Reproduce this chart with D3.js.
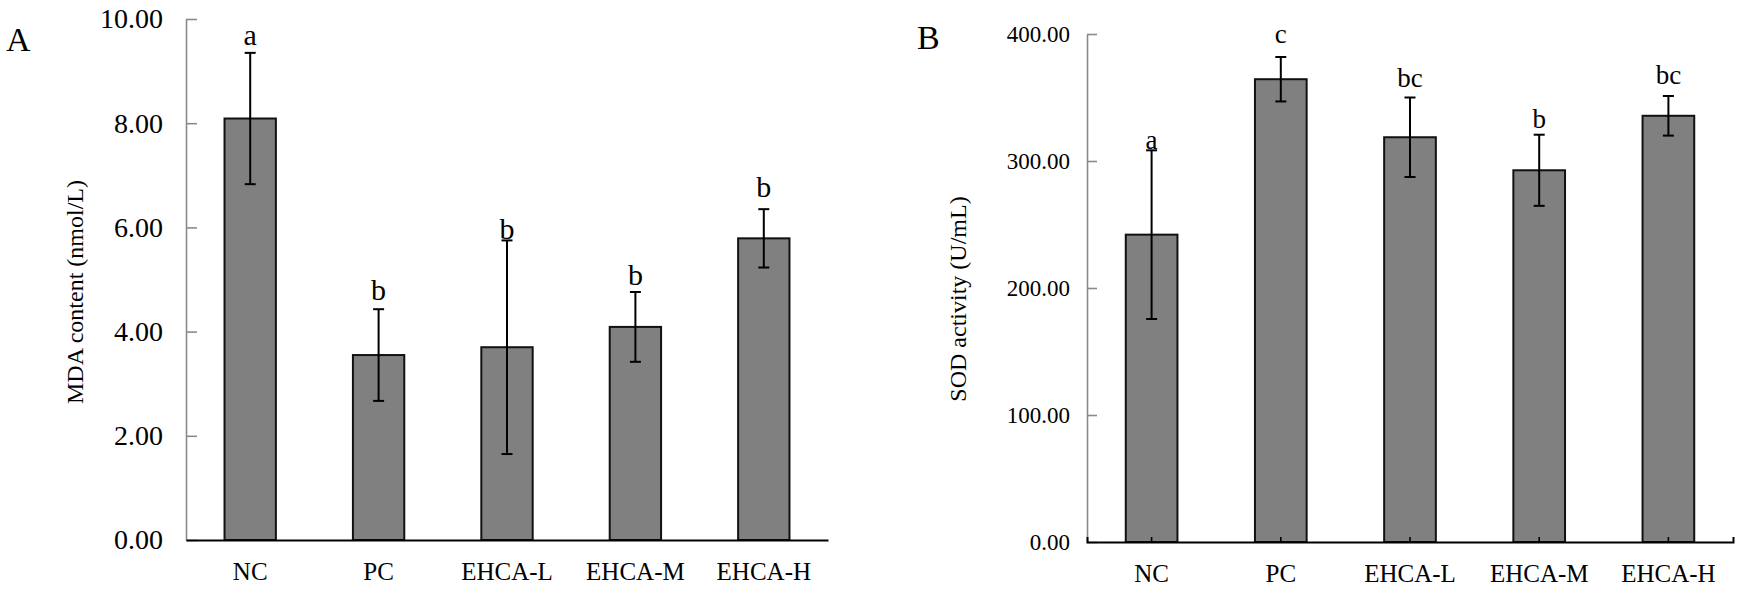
<!DOCTYPE html>
<html>
<head>
<meta charset="utf-8">
<script src="https://cdn.jsdelivr.net/npm/d3@7/dist/d3.min.js"></script>
<style>
  html, body { margin: 0; padding: 0; background: #fff; }
  svg { display: block; }
  text { font-family: "Liberation Serif", "Times New Roman", serif; fill: #000; }
</style>
</head>
<body>
<svg id="chart" width="1741" height="591"></svg>
<script>
// ---- data ----
const categories = ["NC", "PC", "EHCA-L", "EHCA-M", "EHCA-H"];

const mdaMean = [8.09, 3.55, 3.70, 4.09, 5.79];
const mdaSD = [1.26, 0.88, 2.05, 0.67, 0.56];
const mdaLetters = ["a", "b", "b", "b", "b"];
const mdaLetterAt = [9.50, 4.61, 5.78, 4.89, 6.59];
const mdaTicks = [0, 2, 4, 6, 8, 10];

const sodMean = [242.0, 364.4, 318.7, 292.7, 335.6];
const sodSD = [66.4, 17.5, 31.3, 28.0, 15.6];
const sodLetters = ["a", "c", "bc", "b", "bc"];
const sodLetterAt = [309.4, 393.0, 358.6, 326.0, 361.0];
const sodTicks = [0, 100, 200, 300, 400];

// ---- drawing ----
const svg = d3.select("#chart");
const fmt = d3.format(".2f");

function panel(opt) {
  const g = svg.append("g");
  const x = d3.scaleBand().domain(categories)
    .range([opt.x0, opt.x1]).paddingInner(0.6).paddingOuter(0.3);
  const y = d3.scaleLinear().domain([0, opt.ticks[opt.ticks.length - 1]])
    .range([opt.y0, opt.y1]);

  // bars
  g.selectAll("rect.bar").data(categories).enter().append("rect")
    .attr("class", "bar")
    .attr("x", d => x(d))
    .attr("width", x.bandwidth())
    .attr("y", (d, i) => y(opt.mean[i]))
    .attr("height", (d, i) => y(0) - y(opt.mean[i]))
    .attr("fill", "#808080")
    .attr("stroke", "#111")
    .attr("stroke-width", 2);

  // y axis
  const ya = g.append("g")
    .attr("transform", `translate(${opt.x0},0)`)
    .call(d3.axisLeft(y).tickValues(opt.ticks).tickFormat(fmt)
      .tickSizeInner(-opt.tickLen).tickSizeOuter(0).tickPadding(opt.tickPad));
  ya.select(".domain").attr("stroke", "#8a8a8a").attr("stroke-width", 1.6);
  ya.selectAll(".tick line").attr("stroke", "#8a8a8a").attr("stroke-width", 1.6);
  ya.selectAll(".tick text")
    .style("font-family", '"Liberation Serif", "Times New Roman", serif')
    .style("font-size", opt.tickFont + "px").attr("fill", "#000");

  // x axis
  const xa = g.append("g")
    .attr("transform", `translate(0,${opt.y0})`)
    .call(d3.axisBottom(x).tickSizeInner(-opt.xTick).tickSizeOuter(-opt.xTick).tickPadding(22));
  xa.select(".domain").attr("stroke", "#000").attr("stroke-width", 2);
  xa.selectAll(".tick line").attr("stroke", "#000").attr("stroke-width", 1.6)
    .attr("opacity", opt.xTick > 0 ? 1 : 0);
  xa.selectAll(".tick text")
    .style("font-family", '"Liberation Serif", "Times New Roman", serif')
    .style("font-size", "25px").attr("fill", "#000");

  // error bars
  const cx = d => x(d) + x.bandwidth() / 2;
  const cap = 5.5;
  const eb = g.append("g").attr("stroke", "#000").attr("stroke-width", 2).attr("fill", "none");
  categories.forEach((c, i) => {
    const hi = y(opt.mean[i] + opt.sd[i]);
    const lo = y(opt.mean[i] - opt.sd[i]);
    eb.append("line").attr("x1", cx(c)).attr("x2", cx(c)).attr("y1", hi).attr("y2", lo);
    eb.append("line").attr("x1", cx(c) - cap).attr("x2", cx(c) + cap).attr("y1", hi).attr("y2", hi);
    eb.append("line").attr("x1", cx(c) - cap).attr("x2", cx(c) + cap).attr("y1", lo).attr("y2", lo);
  });

  // significance letters
  g.selectAll("text.sig").data(categories).enter().append("text")
    .attr("class", "sig")
    .attr("x", d => cx(d))
    .attr("y", (d, i) => y(opt.letterAt[i]))
    .attr("text-anchor", "middle")
    .style("font-size", opt.letterFont + "px")
    .text((d, i) => opt.letters[i]);

  // y label
  g.append("text")
    .attr("transform", `translate(${opt.labelX},${opt.labelY}) rotate(-90)`)
    .attr("text-anchor", "middle")
    .attr("dominant-baseline", "central")
    .style("font-size", "24px")
    .text(opt.label);

  // panel letter
  g.append("text")
    .attr("x", opt.titleX).attr("y", opt.titleY)
    .style("font-size", "34px")
    .text(opt.title);
}

panel({
  x0: 186, x1: 828, y0: 540, y1: 19,
  mean: mdaMean, sd: mdaSD, letters: mdaLetters, letterAt: mdaLetterAt,
  ticks: mdaTicks, tickLen: 11, tickPad: 23, tickFont: 28, xTick: 0,
  letterFont: 30,
  label: "MDA content (nmol/L)", labelX: 75, labelY: 292,
  title: "A", titleX: 6, titleY: 51
});

panel({
  x0: 1087, x1: 1733, y0: 542, y1: 34,
  mean: sodMean, sd: sodSD, letters: sodLetters, letterAt: sodLetterAt,
  ticks: sodTicks, tickLen: 10, tickPad: 17, tickFont: 23, xTick: 5,
  letterFont: 27,
  label: "SOD activity (U/mL)", labelX: 958, labelY: 299,
  title: "B", titleX: 917, titleY: 49
});
</script>
</body>
</html>
